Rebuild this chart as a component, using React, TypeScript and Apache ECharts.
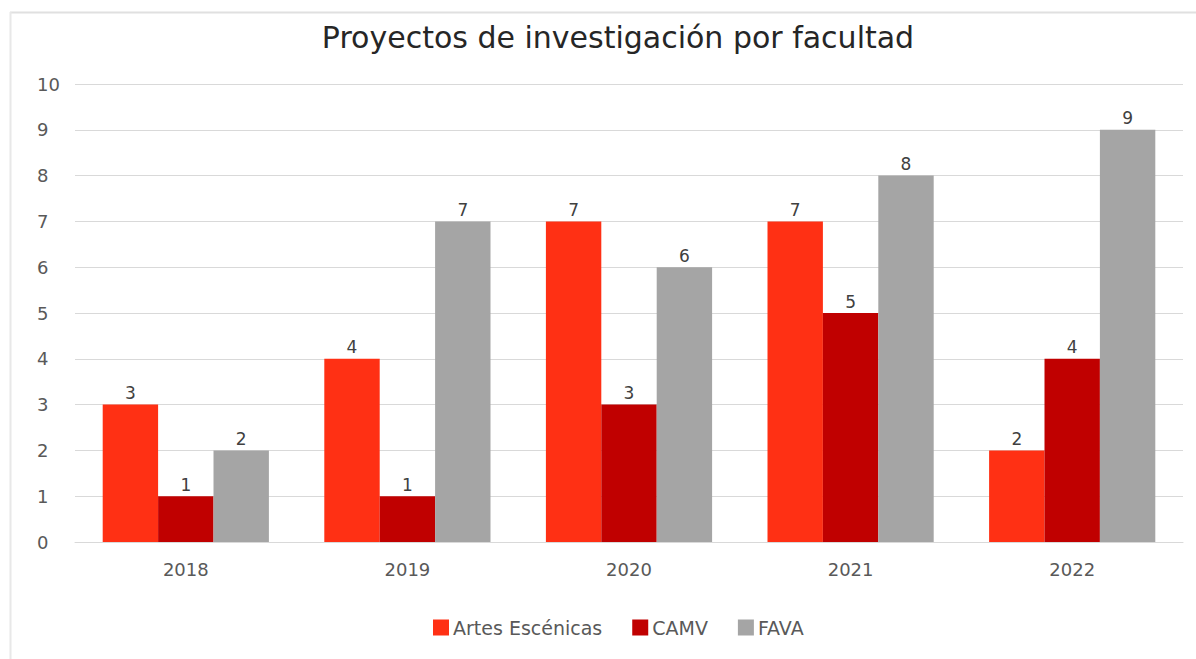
import React, { useEffect, useRef } from "react";
import * as echarts from "echarts";

const categories = ["2018", "2019", "2020", "2021", "2022"];
const artesEscenicas = [3, 4, 7, 7, 2];
const camv = [1, 1, 3, 5, 4];
const fava = [2, 7, 6, 8, 9];
const seriesNames = ["Artes Escénicas", "CAMV", "FAVA"];
const colors = ["#FF3014", "#C00000", "#A5A5A5"];

export default function App() {
  const ref = useRef<HTMLDivElement>(null);
  useEffect(() => {
    const chart = echarts.init(ref.current!, null, { renderer: "svg" });
    const font = "'DejaVu Sans', 'Noto Sans', sans-serif";
    const label = {
      show: true,
      position: "top" as const,
      color: "#404040",
      fontSize: 17,
      fontFamily: font,
      distance: 3,
    };
    const datasets = [artesEscenicas, camv, fava];
    chart.setOption({
      animation: false,
      backgroundColor: "#ffffff",
      textStyle: { fontFamily: font },
      title: {
        text: "Proyectos de investigación por facultad",
        left: 613,
        textAlign: "center",
        top: 17,
        textStyle: { fontSize: 30, fontWeight: "normal", color: "#262626", fontFamily: font },
      },
      graphic: [
        { type: "line", shape: { x1: 10, y1: 12.5, x2: 1196, y2: 12.5 }, style: { stroke: "#e0e0e0", lineWidth: 2 } },
        { type: "line", shape: { x1: 10.5, y1: 12, x2: 10.5, y2: 659 }, style: { stroke: "#e8e8e8", lineWidth: 2 } },
      ],
      legend: {
        data: seriesNames,
        top: 613,
        left: 428,
        itemWidth: 16,
        itemHeight: 16,
        itemGap: 30,
        icon: "rect",
        textStyle: { fontSize: 19, color: "#595959", fontFamily: font, padding: [0, 0, 0, -1] },
      },
      grid: { left: 75, right: 13, top: 84, bottom: 117, containLabel: false },
      xAxis: {
        type: "category",
        data: categories,
        axisLine: { show: true, lineStyle: { color: "#d9d9d9" } },
        axisTick: { show: false },
        axisLabel: { color: "#595959", fontSize: 18, margin: 18, fontFamily: font },
      },
      yAxis: {
        type: "value",
        min: 0,
        max: 10,
        interval: 1,
        axisLine: { show: false },
        axisTick: { show: false },
        axisLabel: { color: "#595959", fontSize: 18, margin: 38, align: "left", fontFamily: font },
        splitLine: { lineStyle: { color: "#d9d9d9", width: 1 } },
      },
      series: datasets.map((d, i) => ({
        name: seriesNames[i],
        type: "bar",
        data: d,
        barGap: "0%",
        barCategoryGap: "25%",
        itemStyle: { color: colors[i] },
        label,
      })),
    });
    return () => chart.dispose();
  }, []);
  return <div ref={ref} style={{ position: "fixed", left: 0, top: 0, width: 1196, height: 659 }} />;
}
